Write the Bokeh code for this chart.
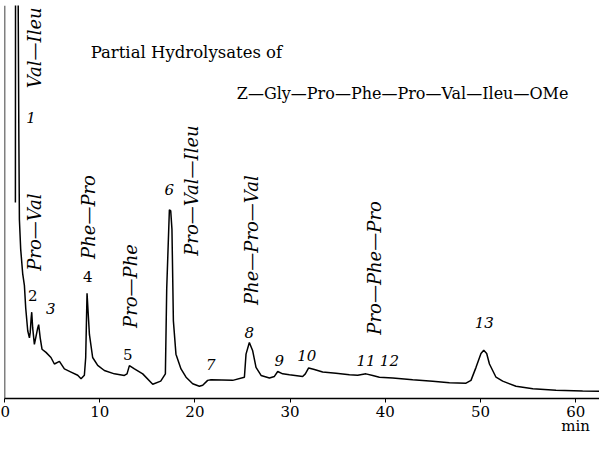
from bokeh.plotting import figure
from bokeh.models import Range1d, Label, ColumnDataSource, FixedTicker, Span
from bokeh.core.properties import value
from bokeh.embed import file_html
from bokeh.resources import INLINE
import math

# Chromatogram trace: retention time (min) and detector response (arbitrary units)
time_min = [1.145, 1.16, 1.28, 1.42, 1.44, 1.51, 1.565, 1.70, 1.91, 2.09, 2.23, 2.44, 2.62, 2.70, 2.80, 2.86,
            2.96, 3.14, 3.28, 3.49, 3.59, 3.75, 3.94, 4.36, 4.88, 5.24, 5.77, 6.29, 6.99, 7.69, 8.04,
            8.39, 8.53, 8.67, 8.92, 9.26, 9.79, 10.49, 11.54, 12.59, 12.87, 13.12, 13.65, 14.52, 15.57,
            16.41, 16.90, 17.04, 17.32, 17.46, 17.59, 17.74, 18.01, 18.54, 19.07, 19.77, 20.47, 20.82,
            21.34, 21.69, 23.97, 25.20, 25.37, 25.72, 26.07, 26.42, 26.95, 27.83, 28.35, 28.70, 29.22,
            29.93, 31.32, 31.60, 31.95, 32.55, 33.42, 34.82, 36.23, 37.10, 37.97, 38.68, 39.38, 40.78,
            42.88, 44.98, 46.73, 48.48, 49.00, 49.53, 50.05, 50.34, 50.65, 50.94, 51.63, 52.33, 53.73,
            55.50, 57.93, 60.73, 63.36]
response = [49.7, 110.0, 140.0, 110.0, 99.7, 65.4, 45.4, 37.9, 31.7, 28.7, 22.9, 17.2, 15.4, 16.7, 20.4, 21.9,
            17.9, 13.75, 15.4, 17.9, 18.75, 15.4, 12.5, 11.7, 10.4, 8.75, 9.4, 7.5, 6.7, 5.9, 5.0,
            5.9, 10.4, 26.7, 16.25, 10.4, 8.4, 7.1, 6.25, 5.85, 6.25, 8.35, 7.5, 6.25, 3.6,
            4.4, 6.25, 27.9, 47.9, 47.6, 42.9, 19.7, 11.25, 7.5, 5.4, 3.75, 3.1, 3.35,
            4.6, 4.75, 4.6, 5.4, 11.25, 14.2, 12.1, 7.9, 5.85, 5.2, 5.6, 6.85, 6.25,
            6.0, 5.6, 6.25, 7.75, 7.35, 6.7, 6.4, 6.0, 5.9, 6.25, 5.85, 5.4, 5.2,
            4.75, 4.4, 4.0, 3.9, 4.6, 7.9, 11.4, 12.25, 11.4, 8.75, 5.4, 4.4, 3.1,
            2.5, 2.1, 1.9, 1.85]

# Peak numbers
peak_ids = ["1", "2", "3", "4", "5", "6", "7", "8", "9", "10", "11", "12", "13"]
peak_t = [2.78, 2.96, 4.85, 8.74, 12.94, 17.32, 21.66, 25.72, 28.87, 31.75, 37.97, 40.43, 50.40]
peak_r = [71.25, 26.2, 22.9, 30.9, 11.2, 52.9, 8.7, 16.85, 9.75, 10.85, 9.75, 9.75, 19.2]
peak_style = ["italic", "normal", "italic", "normal", "normal", "italic", "italic", "italic",
              "italic", "italic", "italic", "italic", "italic"]

# Peptide assignments (vertical labels)
peptide_names = ["Val—Ileu", "Pro—Val", "Phe—Pro", "Pro—Phe", "Pro—Val—Ileu", "Phe—Pro—Val", "Pro—Phe—Pro"]
peptide_t = [3.17, 3.17, 8.80, 13.20, 19.60, 25.97, 38.85]
peptide_r = [78.7, 32.4, 35.4, 17.9, 36.2, 23.7, 16.2]

x_ticks = [0, 10, 20, 30, 40, 50, 60]
x_tick_labels = {0: "0", 10: "10", 20: "20", 30: "30", 40: "40", 50: "50", 60: "60\nmin"}

title_1 = "Partial Hydrolysates of"
title_2 = "Z—Gly—Pro—Phe—Pro—Val—Ileu—OMe"

SERIF = "DejaVu Serif"

p = figure(width=599, height=437, x_range=Range1d(0, 62.5), y_range=Range1d(0, 99.7),
           output_backend="svg", toolbar_location=None,
           min_border_left=4, min_border_right=0, min_border_top=5, min_border_bottom=33)
p.grid.visible = False
p.outline_line_color = None
p.background_fill_color = "white"
p.border_fill_color = "white"

p.yaxis.visible = False
p.add_layout(Span(location=0, dimension="height", line_color="black", line_width=1.5))

ax = p.xaxis[0]
ax.ticker = FixedTicker(ticks=x_ticks)
ax.major_label_overrides = x_tick_labels
ax.axis_line_width = 1.6
ax.axis_line_color = "black"
ax.major_tick_in = 0
ax.major_tick_out = 4
ax.major_tick_line_color = "black"
ax.minor_tick_line_color = None
ax.major_label_standoff = 0
ax.major_label_text_font = SERIF
ax.major_label_text_font_size = "15px"
ax.major_label_text_line_height = 0.8
ax.major_label_text_color = "black"

p.line(time_min, response, line_color="black", line_width=1.5)

src_peaks = ColumnDataSource(dict(x=peak_t, y=peak_r, text=peak_ids, style=peak_style))
p.text(x="x", y="y", text="text", source=src_peaks, text_font=value(SERIF), text_font_size="15px",
       text_font_style="style", text_align="center", text_baseline="middle", text_color="black")

src_pep = ColumnDataSource(dict(x=peptide_t, y=peptide_r, text=peptide_names))
p.text(x="x", y="y", text="text", source=src_pep, angle=math.pi / 2, text_font=value(SERIF),
       text_font_size="18px", text_font_style="italic", text_align="left", text_baseline="middle",
       text_color="black")

p.add_layout(Label(x=9.05, y=87.75, text=title_1, text_font=SERIF, text_font_size="16.5px",
                   text_baseline="middle", text_align="left", text_color="black"))
p.add_layout(Label(x=24.4, y=77.5, text=title_2, text_font=SERIF, text_font_size="16px",
                   text_baseline="middle", text_align="left", text_color="black"))

open("out.html", "w").write(file_html(p, INLINE))
